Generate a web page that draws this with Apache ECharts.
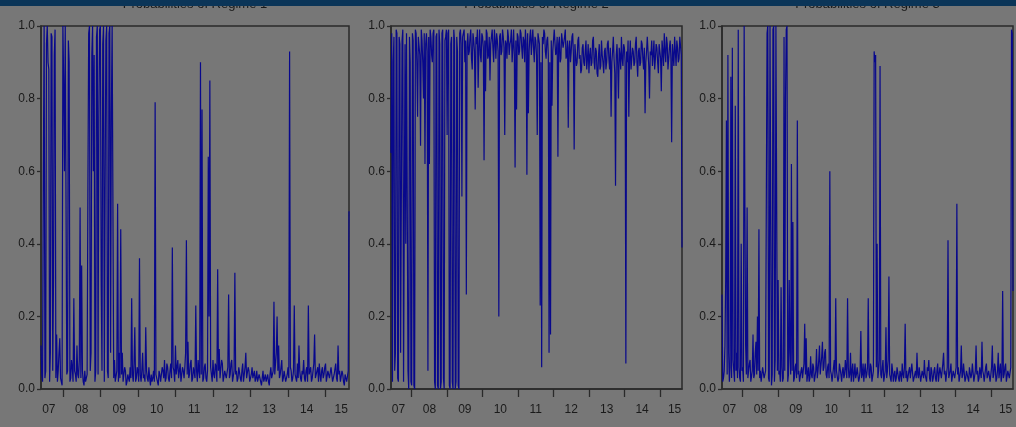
<!DOCTYPE html>
<html>
<head>
<meta charset="utf-8">
<script src="https://cdn.jsdelivr.net/npm/echarts@6/dist/echarts.min.js"></script>
<style>
  html, body { margin: 0; padding: 0; background: #777777; }
  #chart { width: 1016px; height: 427px; }
</style>
</head>
<body>
<div id="chart"></div>
<script>
// Smoothed regime probabilities, four observations per month from June 2007.
const regime1 = [
  0.12,0.04,0.02,0.6,1.0,0.03,0.05,0.95,1.0,0.9,0.88,0.02,0.1,0.98,0.97,0.05,0.3,0.92,0.99,0.03,0.15,0.02,0.05,0.1,
  0.14,0.03,0.03,0.01,1.0,0.85,0.6,1.0,1.0,0.04,0.05,0.96,0.9,0.02,0.03,0.08,0.06,0.02,0.25,0.05,0.04,0.02,0.12,0.04,
  0.03,0.08,0.5,0.03,0.34,0.05,0.02,0.01,0.05,0.02,0.02,0.04,0.55,0.98,1.0,0.05,0.1,0.92,1.0,0.6,0.92,0.02,0.05,0.97,
  1.0,0.04,0.75,0.99,1.0,0.3,0.05,0.95,1.0,0.02,0.55,0.96,1.0,0.05,0.03,0.98,1.0,0.1,0.76,1.0,1.0,0.03,0.08,0.02,
  0.02,0.05,0.51,0.02,0.1,0.03,0.44,0.04,0.1,0.02,0.02,0.06,0.05,0.01,0.02,0.04,0.03,0.02,0.06,0.03,0.25,0.04,0.02,0.07,
  0.17,0.02,0.03,0.06,0.05,0.02,0.36,0.04,0.02,0.05,0.1,0.03,0.04,0.02,0.17,0.05,0.03,0.02,0.06,0.03,0.01,0.04,0.02,0.03,
  0.05,0.02,0.79,0.04,0.03,0.02,0.01,0.05,0.04,0.02,0.02,0.06,0.05,0.03,0.08,0.02,0.03,0.07,0.06,0.03,0.02,0.05,0.07,0.03,
  0.39,0.06,0.05,0.02,0.12,0.04,0.04,0.08,0.03,0.05,0.07,0.02,0.02,0.06,0.05,0.03,0.06,0.1,0.41,0.04,0.13,0.03,0.04,0.07,
  0.08,0.02,0.03,0.06,0.06,0.03,0.23,0.05,0.02,0.08,0.05,0.03,0.9,0.04,0.77,0.02,0.03,0.06,0.07,0.03,0.02,0.05,0.64,0.2,
  0.85,0.06,0.04,0.02,0.08,0.04,0.03,0.07,0.06,0.02,0.33,0.05,0.11,0.03,0.03,0.08,0.07,0.02,0.02,0.05,0.05,0.03,0.03,0.06,
  0.26,0.03,0.04,0.07,0.08,0.02,0.02,0.05,0.32,0.04,0.05,0.02,0.03,0.06,0.06,0.03,0.02,0.05,0.07,0.02,0.04,0.06,0.1,0.03,
  0.03,0.06,0.05,0.02,0.02,0.04,0.06,0.03,0.04,0.05,0.02,0.03,0.05,0.02,0.03,0.04,0.04,0.02,0.01,0.03,0.05,0.02,0.03,0.04,
  0.02,0.03,0.04,0.02,0.01,0.04,0.06,0.03,0.03,0.05,0.24,0.04,0.07,0.1,0.2,0.05,0.12,0.03,0.04,0.06,0.08,0.02,0.03,0.05,
  0.05,0.02,0.02,0.04,0.06,0.03,0.93,0.06,0.05,0.02,0.03,0.05,0.23,0.04,0.04,0.02,0.07,0.03,0.12,0.05,0.03,0.02,0.05,0.04,
  0.08,0.03,0.02,0.05,0.06,0.02,0.23,0.04,0.04,0.06,0.02,0.03,0.05,0.07,0.15,0.03,0.03,0.05,0.06,0.02,0.07,0.04,0.02,0.05,
  0.06,0.03,0.04,0.06,0.07,0.02,0.02,0.05,0.05,0.03,0.03,0.06,0.06,0.02,0.02,0.04,0.04,0.07,0.03,0.02,0.12,0.04,0.05,0.02,
  0.02,0.05,0.04,0.02,0.01,0.04,0.03,0.02,0.02,0.05,0.49
];

const regime2 = [
  0.65,0.98,0.02,0.9,0.97,0.05,0.1,0.99,0.98,0.03,0.02,0.97,0.95,0.1,0.1,0.96,0.99,0.02,0.02,0.95,0.4,0.98,0.98,0.05,
  0.0,0.97,0.9,0.02,0.01,0.98,0.96,0.01,0.0,0.99,0.98,0.9,0.75,0.97,0.97,0.92,0.67,0.99,0.96,0.9,0.8,0.98,0.62,0.95,
  0.98,0.93,0.05,0.97,0.62,0.99,0.97,0.92,0.9,0.98,0.99,0.02,0.0,0.97,0.98,0.01,0.0,0.99,0.95,0.0,0.02,0.98,0.99,0.03,
  0.0,0.96,0.97,0.99,0.7,0.98,0.99,0.01,0.0,0.95,0.97,0.02,0.0,0.99,0.96,0.0,0.02,0.97,0.93,0.01,0.0,0.98,0.99,0.95,
  0.53,0.97,0.97,0.99,0.9,0.96,0.26,0.94,0.98,0.92,0.93,0.97,0.99,0.91,0.88,0.98,0.96,0.93,0.77,0.97,0.95,0.99,0.83,0.94,
  0.99,0.92,0.9,0.98,0.97,0.94,0.63,0.96,0.82,0.99,0.98,0.91,0.92,0.97,0.85,0.95,0.97,0.99,0.94,0.9,0.99,0.96,0.91,0.98,
  0.96,0.93,0.2,0.97,0.98,0.92,0.93,0.99,0.97,0.94,0.7,0.96,0.95,0.91,0.99,0.97,0.92,0.95,0.96,0.99,0.9,0.94,0.99,0.92,
  0.61,0.96,0.77,0.98,0.97,0.92,0.93,0.99,0.98,0.94,0.91,0.97,0.96,0.9,0.99,0.95,0.59,0.98,0.76,0.93,0.97,0.99,0.92,0.96,
  0.99,0.94,0.9,0.97,0.96,0.92,0.7,0.98,0.98,0.95,0.23,0.9,0.06,0.97,0.95,0.99,0.98,0.93,0.91,0.96,0.97,0.92,0.1,0.9,
  0.15,0.96,0.78,0.93,0.96,0.99,0.99,0.92,0.93,0.97,0.64,0.95,0.97,0.9,0.91,0.98,0.98,0.94,0.94,0.97,0.99,0.91,0.92,0.96,
  0.72,0.94,0.96,0.9,0.93,0.97,0.98,0.92,0.66,0.95,0.95,0.89,0.9,0.96,0.97,0.91,0.92,0.87,0.88,0.94,0.95,0.9,0.89,0.93,
  0.96,0.88,0.91,0.95,0.87,0.92,0.94,0.89,0.9,0.96,0.97,0.9,0.88,0.94,0.93,0.87,0.86,0.92,0.95,0.88,0.89,0.96,0.92,0.9,
  0.87,0.93,0.94,0.88,0.9,0.95,0.96,0.91,0.88,0.94,0.75,0.9,0.93,0.97,0.91,0.87,0.56,0.92,0.95,0.89,0.8,0.94,0.92,0.88,
  0.97,0.91,0.89,0.95,0.94,0.9,0.07,0.93,0.9,0.96,0.75,0.91,0.96,0.88,0.88,0.94,0.93,0.89,0.9,0.95,0.97,0.9,0.86,0.93,
  0.94,0.89,0.9,0.96,0.95,0.91,0.88,0.94,0.76,0.9,0.93,0.97,0.97,0.89,0.8,0.93,0.92,0.96,0.89,0.92,0.96,0.88,0.91,0.95,
  0.94,0.9,0.87,0.95,0.95,0.91,0.82,0.96,0.93,0.89,0.98,0.93,0.9,0.97,0.95,0.88,0.88,0.94,0.96,0.91,0.68,0.95,0.92,0.89,
  0.97,0.93,0.89,0.96,0.94,0.9,0.91,0.97,0.97,0.92,0.39
];

const regime3 = [
  0.26,0.02,0.03,0.05,0.12,0.3,0.74,0.04,0.92,0.1,0.02,0.06,0.86,0.03,0.94,0.08,0.05,0.02,0.78,0.05,0.1,0.03,0.99,0.06,
  0.03,0.02,0.4,0.05,0.06,0.02,1.0,0.5,0.12,0.04,0.5,0.03,0.03,0.07,0.08,0.02,0.02,0.05,0.15,0.03,0.04,0.1,0.13,0.04,
  0.2,0.05,0.44,0.03,0.05,0.02,0.02,0.06,0.06,0.03,0.03,0.05,0.05,0.98,1.0,0.03,0.02,1.0,1.0,0.01,0.04,0.99,1.0,0.02,
  0.08,1.0,1.0,0.05,0.3,0.04,0.05,0.02,0.28,0.06,0.02,0.03,0.97,0.05,0.8,0.99,1.0,0.02,0.04,0.3,0.1,0.04,0.62,0.05,
  0.46,0.02,0.03,0.06,0.07,0.03,0.74,0.04,0.05,0.02,0.02,0.05,0.06,0.03,0.03,0.07,0.18,0.04,0.14,0.02,0.04,0.06,0.02,0.03,
  0.09,0.04,0.03,0.07,0.06,0.02,0.02,0.05,0.11,0.03,0.05,0.08,0.12,0.04,0.04,0.09,0.13,0.05,0.06,0.1,0.11,0.04,0.03,0.06,
  0.07,0.03,0.6,0.05,0.04,0.02,0.02,0.06,0.08,0.03,0.25,0.05,0.05,0.02,0.03,0.07,0.07,0.04,0.02,0.05,0.06,0.03,0.04,0.08,
  0.08,0.03,0.25,0.06,0.03,0.04,0.1,0.02,0.05,0.07,0.02,0.04,0.07,0.03,0.04,0.06,0.06,0.02,0.03,0.05,0.16,0.03,0.04,0.07,
  0.02,0.05,0.07,0.03,0.04,0.06,0.25,0.04,0.03,0.07,0.06,0.02,0.02,0.05,0.93,0.9,0.92,0.06,0.4,0.03,0.05,0.08,0.89,0.04,
  0.03,0.06,0.08,0.02,0.02,0.05,0.17,0.03,0.05,0.08,0.31,0.04,0.04,0.02,0.07,0.05,0.02,0.04,0.05,0.02,0.03,0.06,0.06,0.03,
  0.02,0.05,0.04,0.02,0.07,0.04,0.03,0.06,0.18,0.03,0.05,0.02,0.02,0.05,0.06,0.03,0.03,0.07,0.07,0.02,0.02,0.04,0.05,0.03,
  0.1,0.04,0.03,0.06,0.06,0.02,0.02,0.05,0.05,0.03,0.08,0.04,0.03,0.02,0.06,0.05,0.08,0.03,0.02,0.06,0.05,0.02,0.03,0.05,
  0.06,0.03,0.02,0.05,0.07,0.02,0.04,0.06,0.06,0.03,0.03,0.07,0.1,0.04,0.05,0.02,0.02,0.06,0.41,0.03,0.04,0.05,0.07,0.02,
  0.02,0.05,0.05,0.03,0.03,0.06,0.51,0.04,0.06,0.02,0.02,0.05,0.12,0.03,0.04,0.07,0.07,0.02,0.03,0.05,0.05,0.03,0.02,0.06,
  0.06,0.03,0.04,0.07,0.07,0.02,0.02,0.05,0.12,0.04,0.05,0.02,0.03,0.06,0.06,0.03,0.13,0.05,0.04,0.02,0.02,0.06,0.07,0.03,
  0.03,0.05,0.05,0.02,0.02,0.06,0.12,0.03,0.04,0.07,0.06,0.02,0.03,0.05,0.1,0.03,0.05,0.07,0.02,0.04,0.27,0.03,0.04,0.06,
  0.07,0.02,0.02,0.05,0.05,0.03,0.03,0.06,0.99,0.98,0.27
];

const panelTitles = ['Probabilities of Regime 1', 'Probabilities of Regime 2', 'Probabilities of Regime 3'];
const START_YEAR = 2007;
const START_MONTH = 6;                 // first observation: 1 June 2007
const OBS_DAYS = ['01', '08', '16', '24']; // observation days within each month

// Observation dates
const pad = n => String(n).padStart(2, '0');
const dates = regime1.map((_, i) => {
  const m = (START_MONTH - 1) + Math.floor(i / OBS_DAYS.length);
  const y = START_YEAR + Math.floor(m / 12);
  return `${y}-${pad(m % 12 + 1)}-${OBS_DAYS[i % OBS_DAYS.length]}`;
});

// Year boundaries get a tick; each year's label sits mid-year, kept inside the plot
const tickIdx = new Set();
const labelIdx = new Set();
const years = [...new Set(dates.map(d => d.slice(0, 4)))];
years.forEach(y => {
  const first = dates.findIndex(d => d.startsWith(y));
  const last = dates.length - 1 - [...dates].reverse().findIndex(d => d.startsWith(y));
  if (first > 0) tickIdx.add(first);
  let mid = dates.indexOf(`${y}-07-01`);
  if (mid < 0) mid = Math.round((first + last) / 2);
  mid = Math.max(first + 10, Math.min(last - 10, mid));
  labelIdx.add(mid);
});

const seriesData = [regime1, regime2, regime3];
const gridBoxes = [
  { left: 41, width: 308 },
  { left: 391, width: 291 },
  { left: 722, width: 291 }
];

const axisColor = '#2a2a2a';
const textColor = '#1a1a1a';
const font = '"Liberation Sans", Arial, sans-serif';

const option = {
  backgroundColor: '#777777',
  animation: false,
  grid: gridBoxes.map(g => ({
    left: g.left, width: g.width, top: 26, height: 363,
    show: true, borderColor: axisColor, borderWidth: 1.5,
    backgroundColor: 'transparent'
  })),
  xAxis: gridBoxes.map((g, k) => ({
    type: 'category', gridIndex: k, data: dates, boundaryGap: false,
    axisLine: { show: true, lineStyle: { color: axisColor, width: 1.5 } },
    axisTick: { show: true, length: 8, interval: i => tickIdx.has(i), lineStyle: { color: axisColor, width: 1.3 } },
    axisLabel: {
      interval: i => labelIdx.has(i), formatter: v => v.slice(2, 4),
      color: textColor, fontSize: 12, fontFamily: font, margin: 15
    },
    splitLine: { show: false }
  })),
  yAxis: gridBoxes.map((g, k) => ({
    type: 'value', gridIndex: k, min: 0, max: 1, interval: 0.2,
    axisLine: { show: true, lineStyle: { color: axisColor, width: 1.5 } },
    axisTick: { show: true, length: 4, lineStyle: { color: axisColor, width: 1.3 } },
    axisLabel: { formatter: v => v.toFixed(1), color: textColor, fontSize: 12, fontFamily: font, margin: 6 },
    splitLine: { show: false }
  })),
  series: seriesData.map((d, k) => ({
    type: 'line', xAxisIndex: k, yAxisIndex: k, data: d,
    showSymbol: false, symbol: 'none', sampling: null,
    lineStyle: { color: '#08088c', width: 1.2 },
    silent: true
  })),
  graphic: [
    ...gridBoxes.map((g, k) => ({
      type: 'text', x: g.left + g.width / 2, y: -2, z: 10,
      style: { text: panelTitles[k], textAlign: 'center', textVerticalAlign: 'top',
               fill: textColor, font: `13px ${font}` }
    })),
    { type: 'rect', z: 20, shape: { x: 0, y: 0, width: 1016, height: 6 }, style: { fill: '#0b3558' } }
  ]
};

const chart = echarts.init(document.getElementById('chart'), null, { renderer: 'canvas' });
chart.setOption(option);
</script>
</body>
</html>
